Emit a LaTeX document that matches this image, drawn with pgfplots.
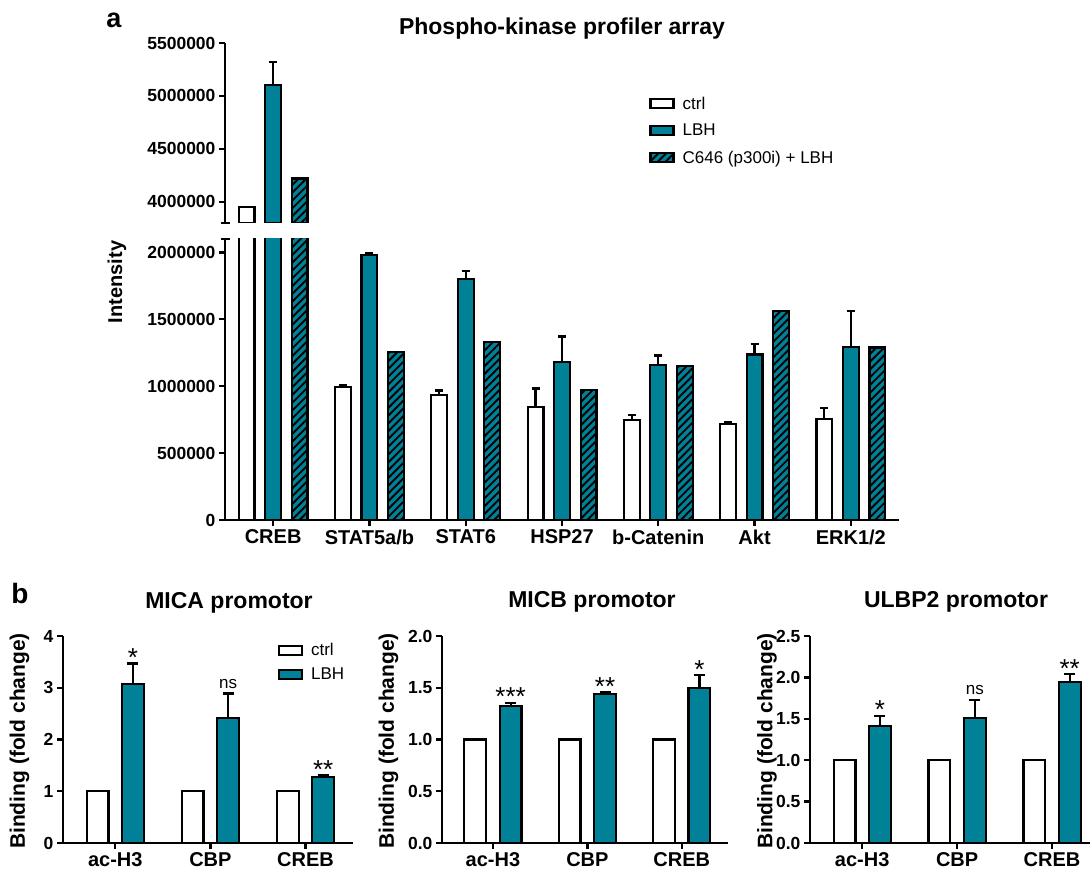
\documentclass[border=0pt]{standalone}
\usepackage{fontspec}
\setmainfont{Liberation Sans}
\usepackage{pgfplots}
\pgfplotsset{compat=1.18}
\usetikzlibrary{patterns.meta}
\definecolor{tealc}{RGB}{0,129,152}
\newcommand{\fs}[1]{\fontsize{#1}{#1}\selectfont}

\pgfplotsset{
  boxleg/.style={legend image code/.code={\draw[##1] (0pt,-4.5pt) rectangle (23pt,4.5pt); \path (29pt,0pt);}},
  base/.style={
    scale only axis, enlargelimits=false, clip=true,
    scaled y ticks=false, scaled x ticks=false,
    axis line style={line width=2.4pt, black},
    every tick/.style={line width=2.4pt, black},
    major tick length=6pt, tick align=outside,
    axis x line*=bottom, axis y line*=left,
    yticklabel style={font=\bfseries\fs{17.5}},
    xticklabel style={font=\bfseries\fs{20}},
    /pgf/number format/assume math mode=true,
    legend cell align=left,
    error bars/error bar style={line width=2.2pt, draw=black},
    error bars/error mark=-,
  },
  ctrlbar/.style={fill=white, draw=black, line width=2.2pt, boxleg},
  lbhbar/.style={fill=tealc, draw=black, line width=2.2pt, boxleg},
  hatchbar/.style={fill=tealc, draw=black, line width=2.2pt,
     postaction={pattern={Lines[angle=45,distance=5.5pt,line width=1.9pt]},pattern color=black}, boxleg},
}

\begin{document}
\begin{tikzpicture}[x=1pt,y=1pt]
\path[use as bounding box] (0,0) rectangle (1092,874);

% ---------- panel a, lower segment ----------
\begin{axis}[base, at={(225pt,354pt)}, anchor=south west, width=674pt, height=281pt,
  ybar=10.7pt, bar width=15.8pt,
  error bars/error mark options={rotate=90, line width=2.2pt, draw=black, mark size=4pt},
  xmin=-0.5, xmax=6.5, ymin=0, ymax=2100000,
  xtick={0,1,2,3,4,5,6}, xticklabels={CREB,STAT5a/b,STAT6,HSP27,b-Catenin,Akt,ERK1/2},
  ytick={0,500000,1000000,1500000,2000000},
  yticklabels={0,500000,1000000,1500000,2000000},
  extra y ticks={2100000}, extra y tick labels={},
  extra y tick style={tick align=center, major tick length=9pt}]
\addplot[ctrlbar, error bars/y dir=plus, error bars/y explicit] coordinates {
 (0,3950000) +- (0,0)
 (1,995000) +- (0,15000)
 (2,937000) +- (0,30000)
 (3,842000) +- (0,140000)
 (4,747000) +- (0,38000)
 (5,717000) +- (0,12000)
 (6,757000) +- (0,80000)};
\addplot[lbhbar, error bars/y dir=plus, error bars/y explicit] coordinates {
 (0,5100000) +- (0,220000)
 (1,1980000) +- (0,15000)
 (2,1800000) +- (0,60000)
 (3,1179000) +- (0,193000)
 (4,1157000) +- (0,72000)
 (5,1237000) +- (0,80000)
 (6,1295000) +- (0,266000)};
\addplot[hatchbar] coordinates {
 (0,4220000) (1,1257000) (2,1332000) (3,969000) (4,1152000) (5,1561000) (6,1289000)};
\end{axis}

% ---------- panel a, upper segment ----------
\begin{axis}[base, at={(225pt,651pt)}, anchor=south west, width=674pt, height=180pt,
  ybar=10.7pt, bar width=15.8pt,
  error bars/error mark options={rotate=90, line width=2.2pt, draw=black, mark size=4pt},
  xmin=-0.5, xmax=6.5, ymin=3800000, ymax=5500000,
  axis x line=none, axis y line*=left,
  ytick={4000000,4500000,5000000,5500000},
  yticklabels={4000000,4500000,5000000,5500000},
  extra y ticks={3800000}, extra y tick labels={},
  extra y tick style={tick align=center, major tick length=9pt},
  legend style={at={(axis description cs:0.625,0.725)}, anchor=north west, draw=none, fill=none,
    font=\fs{17}, row sep=9.5pt}]
\addplot[ctrlbar] coordinates {(0,3950000)};
\addplot[lbhbar, error bars/y dir=plus, error bars/y explicit] coordinates {(0,5100000) +- (0,220000)};
\addplot[hatchbar] coordinates {(0,4220000)};
\legend{ctrl,LBH,C646 (p300i) + LBH}
\end{axis}

\node[font=\bfseries\fs{27}] at (114,854) {a};
\node[font=\bfseries\fs{23}, anchor=base] at (562,839) {Phospho-kinase profiler array};
\node[font=\bfseries\fs{20}, rotate=90] at (117,592) {Intensity};

% ---------- panel b ----------
\node[font=\bfseries\fs{28}] at (20,280) {b};
\node[font=\bfseries\fs{23}, anchor=base] at (229,265) {MICA promotor};
\node[font=\bfseries\fs{23}, anchor=base] at (592,266) {MICB promotor};
\node[font=\bfseries\fs{23}, anchor=base] at (956,266) {ULBP2 promotor};
\node[font=\bfseries\fs{21}, rotate=90] at (19.5,133) {Binding (fold change)};
\node[font=\bfseries\fs{21}, rotate=90] at (388.5,133) {Binding (fold change)};
\node[font=\bfseries\fs{21}, rotate=90] at (767,133) {Binding (fold change)};

% MICA
\begin{axis}[base, at={(63pt,31pt)}, anchor=south west, width=290pt, height=207pt,
  ybar=13.6pt, bar width=21.8pt,
  error bars/error mark options={rotate=90, line width=2.2pt, draw=black, mark size=5.5pt},
  xmin=-0.55, xmax=2.5, ymin=0, ymax=4,
  xtick={0,1,2}, xticklabels={ac-H3,CBP,CREB},
  ytick={0,1,2,3,4}, yticklabels={0,1,2,3,4},
  legend style={at={(axis description cs:0.73,0.985)}, anchor=north west, draw=none, fill=none,
    font=\fs{17}, row sep=7pt}]
\addplot[ctrlbar] coordinates {(0,1) (1,1) (2,1)};
\addplot[lbhbar, error bars/y dir=plus, error bars/y explicit] coordinates {(0,3.08) +- (0,0.39) (1,2.42) +- (0,0.47) (2,1.27) +- (0,0.04)};
\legend{ctrl,LBH}
\node[font=\fs{26}, anchor=base] at ([xshift=17.7pt,yshift=-3pt]axis cs:0,3.47) {*};
\node[font=\fs{17}, anchor=base] at ([xshift=17.7pt,yshift=5pt]axis cs:1,2.89) {ns};
\node[font=\fs{26}, anchor=base] at ([xshift=17.7pt,yshift=-3pt]axis cs:2,1.31) {**};
\end{axis}

% MICB
\begin{axis}[base, at={(442pt,31pt)}, anchor=south west, width=286pt, height=207pt,
  ybar=13.6pt, bar width=21.8pt,
  error bars/error mark options={rotate=90, line width=2.2pt, draw=black, mark size=5.5pt},
  xmin=-0.54, xmax=2.49, ymin=0, ymax=2,
  xtick={0,1,2}, xticklabels={ac-H3,CBP,CREB},
  ytick={0,0.5,1,1.5,2}, yticklabels={0.0,0.5,1.0,1.5,2.0}]
\addplot[ctrlbar] coordinates {(0,1) (1,1) (2,1)};
\addplot[lbhbar, error bars/y dir=plus, error bars/y explicit] coordinates {(0,1.327) +- (0,0.029) (1,1.437) +- (0,0.019) (2,1.50) +- (0,0.123)};
\node[font=\fs{26}, anchor=base] at ([xshift=17.7pt,yshift=-3pt]axis cs:0,1.356) {***};
\node[font=\fs{26}, anchor=base] at ([xshift=17.7pt,yshift=-3pt]axis cs:1,1.456) {**};
\node[font=\fs{26}, anchor=base] at ([xshift=17.7pt,yshift=-3pt]axis cs:2,1.623) {*};
\end{axis}

% ULBP2
\begin{axis}[base, at={(810pt,31pt)}, anchor=south west, width=280pt, height=207pt,
  ybar=13.6pt, bar width=21.8pt,
  error bars/error mark options={rotate=90, line width=2.2pt, draw=black, mark size=5.5pt},
  xmin=-0.55, xmax=2.4, ymin=0, ymax=2.5,
  xtick={0,1,2}, xticklabels={ac-H3,CBP,CREB},
  ytick={0,0.5,1,1.5,2,2.5}, yticklabels={0.0,0.5,1.0,1.5,2.0,2.5}]
\addplot[ctrlbar] coordinates {(0,1) (1,1) (2,1)};
\addplot[lbhbar, error bars/y dir=plus, error bars/y explicit] coordinates {(0,1.417) +- (0,0.12) (1,1.513) +- (0,0.214) (2,1.948) +- (0,0.089)};
\node[font=\fs{26}, anchor=base] at ([xshift=17.7pt,yshift=-3pt]axis cs:0,1.537) {*};
\node[font=\fs{17}, anchor=base] at ([xshift=17.7pt,yshift=5pt]axis cs:1,1.727) {ns};
\node[font=\fs{26}, anchor=base] at ([xshift=17.7pt,yshift=-3pt]axis cs:2,2.037) {**};
\end{axis}
\end{tikzpicture}
\end{document}
